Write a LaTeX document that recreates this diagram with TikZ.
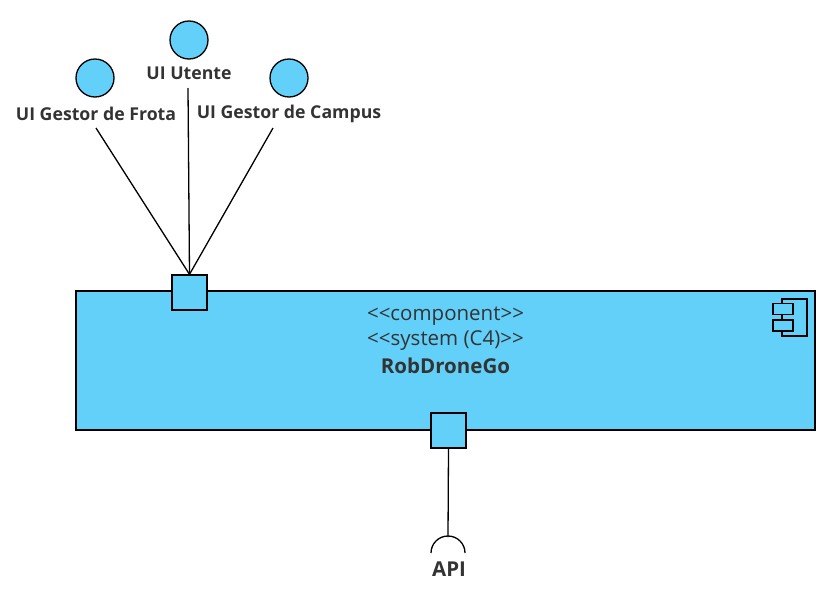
\documentclass[tikz,border=0pt]{standalone}
\usepackage{fontspec}
\setmainfont{Open Sans}[Ligatures=TeXOff]
\definecolor{cfill}{HTML}{63D0FA}
\definecolor{ctext}{HTML}{333333}
\begin{document}
\begin{tikzpicture}[x=1pt,y=-1pt,
  lbl/.style={text=ctext,font=\bfseries\fontsize{17.7}{20}\selectfont,inner sep=0pt,anchor=center},
  iface/.style={circle,draw=black,line width=1.3pt,fill=cfill,minimum size=38pt,inner sep=0pt},
  port/.style={draw=black,line width=1.3pt,fill=cfill,minimum size=35pt,inner sep=0pt},
  conn/.style={draw=black,line width=1.3pt}]
\useasboundingbox (0,0) rectangle (837,600);
% main component
\node[draw=black,line width=1.3pt,fill=cfill,minimum width=739pt,minimum height=139pt,inner sep=0pt] (sys) at (445.5,360.5) {};
\node[text=ctext,font=\fontsize{20.5}{24}\selectfont,inner sep=0pt] (t1) at (445.5,316) {<<component>>};
\node[text=ctext,font=\fontsize{20.5}{24}\selectfont,inner sep=0pt] (t2) at (445.5,341) {<<system (C4)>>};
\node[text=ctext,font=\bfseries\fontsize{20.5}{24}\selectfont,inner sep=0pt] (t3) at (445.5,366) {RobDroneGo};
% component icon
\draw[line width=1.3pt] (782,299) rectangle (807,336);
\draw[line width=1.3pt,fill=cfill] (773,303.5) rectangle (793,314.5);
\draw[line width=1.3pt,fill=cfill] (773,320) rectangle (793,331);
% ports
\node[port] (ptop) at (189.5,292.5) {};
\node[port] (pbot) at (448.5,430.5) {};
% interfaces
\node[iface] (cU) at (189,40) {};
\node[iface] (cF) at (95,78) {};
\node[iface] (cC) at (289,78) {};
\node[lbl] (lU) at (189,73) {UI Utente};
\node[lbl] (lF) at (96,114) {UI Gestor de Frota};
\node[lbl] (lC) at (289,114) {UI Gestor de Campus};
\coordinate (eU) at (188,88);
\coordinate (eF) at (96,128);
\coordinate (eC) at (273,128);
\draw[conn] (eF) -- (ptop.north);
\draw[conn] (eU) -- (ptop.north);
\draw[conn] (eC) -- (ptop.north);
% API socket
\coordinate (sk) at (448,537);
\draw[conn] (pbot.south) -- (sk);
\draw[line width=1.3pt] (431,553) arc[start angle=180,end angle=0,radius=17pt];
\node[lbl,font=\bfseries\fontsize{20.5}{24}\selectfont] (lA) at (449,569) {API};
\end{tikzpicture}
\end{document}
